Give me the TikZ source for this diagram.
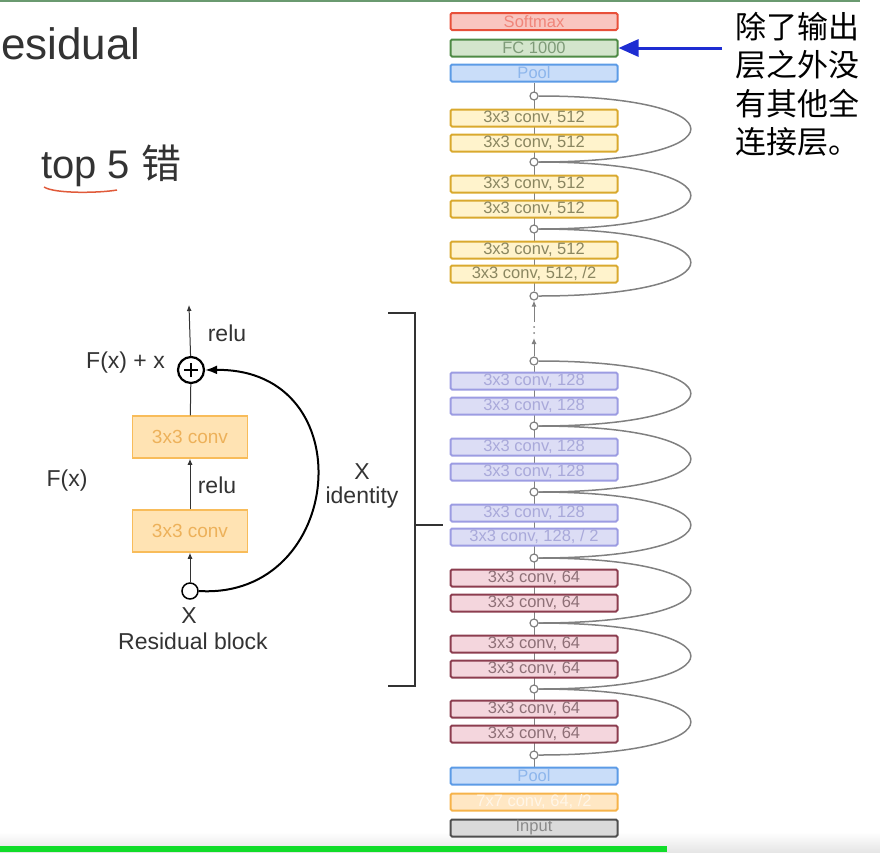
\documentclass[tikz,border=0pt]{standalone}
\usepackage{fontspec}
\setmainfont{Liberation Sans}
\newfontfamily\cjk{Noto Sans CJK SC}
\usepackage{xcolor}
\usetikzlibrary{arrows.meta,backgrounds}

\definecolor{smfill}{HTML}{F9C6C0}\definecolor{smdraw}{HTML}{E8503A}\definecolor{smtext}{HTML}{F0857A}
\definecolor{fcfill}{HTML}{D3E5CC}\definecolor{fcdraw}{HTML}{4E8A45}\definecolor{fctext}{HTML}{7E9B78}
\definecolor{plfill}{HTML}{C9DDF9}\definecolor{pldraw}{HTML}{5C9BE6}\definecolor{pltext}{HTML}{8DB6EC}
\definecolor{yfill}{HTML}{FFF3CC}\definecolor{ydraw}{HTML}{D9A92E}\definecolor{ytext}{HTML}{8A8660}
\definecolor{vfill}{HTML}{DCDDF5}\definecolor{vdraw}{HTML}{9C9CE2}\definecolor{vtext}{HTML}{A9A9DA}
\definecolor{rfill}{HTML}{F4D6DD}\definecolor{rdraw}{HTML}{8C3D4F}\definecolor{rtext}{HTML}{8E7077}
\definecolor{ofill}{HTML}{FFE7C4}\definecolor{odraw}{HTML}{F6B34A}\definecolor{otext}{HTML}{FFF6E8}
\definecolor{gfill}{HTML}{DADADA}\definecolor{gdraw}{HTML}{4F4F4F}\definecolor{gtext}{HTML}{8A8A8A}
\definecolor{blkfill}{HTML}{FFE3B3}\definecolor{blkdraw}{HTML}{F8BC5A}\definecolor{blktext}{HTML}{EDB15A}
\definecolor{notearrow}{HTML}{1E2DD2}
\definecolor{topgreen}{HTML}{6A9A70}
\definecolor{bargreen}{HTML}{11DD2A}
\definecolor{inkred}{HTML}{E05A3A}
\definecolor{ink}{HTML}{333333}

\begin{document}
\begin{tikzpicture}[x=1pt, y=-1pt,
                    layer/.style={draw, line width=2pt, rounded corners=1.5pt,
                                  minimum width=167pt, minimum height=17pt, inner sep=0pt,
                                  font=\fontsize{16.5}{16.5}\selectfont},
                    softmaxbox/.style={layer, fill=smfill, draw=smdraw, text=smtext},
                    fcbox/.style={layer, fill=fcfill, draw=fcdraw, text=fctext},
                    poolbox/.style={layer, fill=plfill, draw=pldraw, text=pltext},
                    conv512/.style={layer, fill=yfill, draw=ydraw, text=ytext},
                    conv128/.style={layer, fill=vfill, draw=vdraw, text=vtext},
                    conv64/.style={layer, fill=rfill, draw=rdraw, text=rtext},
                    conv7box/.style={layer, fill=ofill, draw=odraw, text=otext},
                    inputbox/.style={layer, fill=gfill, draw=gdraw, text=gtext},
                    junc/.style={circle, draw=gray, fill=white, line width=1.2pt,
                                 inner sep=0pt, minimum size=8pt},
                    skiparc/.style={draw=gray, line width=1.5pt},
                    spine/.style={draw=gray, line width=1pt},
                    uparrow/.style={draw=gray, line width=1pt, -{Latex[length=6pt,width=5pt]}},
                    blockconv/.style={draw=blkdraw, fill=blkfill, text=blktext, line width=1.5pt,
                                      minimum width=115pt, minimum height=42pt,
                                      font=\fontsize{19}{19}\selectfont},
                    lbl/.style={text=ink, inner sep=0pt, font=\fontsize{23}{26}\selectfont},
                    flow/.style={draw=ink, line width=1pt, -{Latex[length=6pt,width=5pt]}}]
  \useasboundingbox (0,0) rectangle (880,852);

  % page edges
  \shade[top color=white, bottom color=black!10] (0,832) rectangle (880,852);
  \fill[bargreen] (0,846) rectangle (667,852);
  \fill[topgreen] (0,0) rectangle (860,2);

  % title
  \node[anchor=base west, inner sep=0pt, font=\fontsize{44}{44}\selectfont, text=ink] (title) at (1,59) {esidual};
  \node[anchor=base west, inner sep=0pt, font=\fontsize{40}{40}\selectfont, text=ink] (top5) at (41,178) {top 5 {\cjk 错}};
  \draw[inkred, line width=1.5pt] (44,187) .. controls (55,194) and (100,193) .. (117,190);

  % the network
  \node[softmaxbox] (softmax) at (534,21.5) {Softmax};
  \node[fcbox] (fc) at (534,48) {FC 1000};
  \node[poolbox] (pooltop) at (534,73) {Pool};
  \node[junc] (j1) at (534,96) {};
  \node[conv512] (a1) at (534,118) {3x3 conv, 512};
  \node[conv512] (a2) at (534,143) {3x3 conv, 512};
  \node[junc] (j2) at (534,162) {};
  \node[conv512] (a3) at (534,184) {3x3 conv, 512};
  \node[conv512] (a4) at (534,209) {3x3 conv, 512};
  \node[junc] (j3) at (534,229) {};
  \node[conv512] (a5) at (534,250) {3x3 conv, 512};
  \node[conv512] (a6) at (534,274) {3x3 conv, 512, /2};
  \node[junc] (j4) at (534,296) {};
  \node[junc] (j5) at (534,361) {};
  \node[conv128] (b1) at (534,381) {3x3 conv, 128};
  \node[conv128] (b2) at (534,406) {3x3 conv, 128};
  \node[junc] (j6) at (534,426) {};
  \node[conv128] (b3) at (534,447) {3x3 conv, 128};
  \node[conv128] (b4) at (534,472) {3x3 conv, 128};
  \node[junc] (j7) at (534,492) {};
  \node[conv128] (b5) at (534,513) {3x3 conv, 128};
  \node[conv128] (b6) at (534,537) {3x3 conv, 128, / 2};
  \node[junc] (j8) at (534,558) {};
  \node[conv64] (c1) at (534,578) {3x3 conv, 64};
  \node[conv64] (c2) at (534,603) {3x3 conv, 64};
  \node[junc] (j9) at (534,623) {};
  \node[conv64] (c3) at (534,644) {3x3 conv, 64};
  \node[conv64] (c4) at (534,669) {3x3 conv, 64};
  \node[junc] (j10) at (534,689) {};
  \node[conv64] (c5) at (534,709) {3x3 conv, 64};
  \node[conv64] (c6) at (534,734) {3x3 conv, 64};
  \node[junc] (j11) at (534,755) {};
  \node[poolbox] (poolbot) at (534,776) {Pool};
  \node[conv7box] (conv7) at (534,802) {7x7 conv, 64, /2};
  \node[inputbox] (input) at (534,828) {Input};

  \begin{scope}[on background layer]
    \draw[spine] (pooltop) -- (j4);
    \draw[spine] (j5) -- (poolbot);
  \end{scope}

  \coordinate (gaptop) at (534,322);
  \coordinate (gapbot) at (534,338);
  \draw[uparrow] (gaptop) -- (j4);
  \draw[uparrow] (j5) -- (gapbot);
  \fill[gray] (534,327) circle (1pt) (534,333) circle (1pt);

  \draw[skiparc] (j1.east) .. controls +(203,0) and +(203,0) .. (j2.east);
  \draw[skiparc] (j2.east) .. controls +(203,0) and +(203,0) .. (j3.east);
  \draw[skiparc] (j3.east) .. controls +(203,0) and +(203,0) .. (j4.east);
  \draw[skiparc] (j5.east) .. controls +(203,0) and +(203,0) .. (j6.east);
  \draw[skiparc] (j6.east) .. controls +(203,0) and +(203,0) .. (j7.east);
  \draw[skiparc] (j7.east) .. controls +(203,0) and +(203,0) .. (j8.east);
  \draw[skiparc] (j8.east) .. controls +(203,0) and +(203,0) .. (j9.east);
  \draw[skiparc] (j9.east) .. controls +(203,0) and +(203,0) .. (j10.east);
  \draw[skiparc] (j10.east) .. controls +(203,0) and +(203,0) .. (j11.east);

  % note on the FC layer
  \coordinate (notetail) at (722,48);
  \draw[notearrow, line width=3pt, -{Triangle[length=20pt,width=17pt]}] (notetail) -- (fc.east);
  \node[anchor=north west, align=left, inner sep=0pt,
        font=\cjk\fontsize{31}{38.5}\selectfont] (note) at (735,12)
        {除了输出\\层之外没\\有其他全\\连接层。};

  % residual block
  \node[circle, draw=black, line width=2.2pt, minimum size=26pt, inner sep=0pt] (sum) at (191,370) {};
  \draw[line width=2.8pt] ([xshift=-7pt]sum.center) -- ([xshift=7pt]sum.center)
                          ([yshift=-7pt]sum.center) -- ([yshift=7pt]sum.center);
  \node[blockconv] (conv2) at (190,437) {3x3 conv};
  \node[blockconv] (conv1) at (190,531) {3x3 conv};
  \node[circle, draw=black, line width=1.5pt, fill=white, minimum size=16pt, inner sep=0pt] (xin) at (190,591) {};
  \coordinate (out) at (189,305);

  \draw[flow] (sum) -- (out);
  \draw[ink, line width=1pt] (conv2) -- (sum);
  \draw[flow] (conv1) -- (conv2);
  \draw[flow] (xin) -- (conv1);
  \draw[black, line width=2pt, -{Latex[length=12pt,width=9pt]}]
    (xin.east) .. controls (345,600) and (365,368) .. (sum.east);

  \node[lbl] (relutop) at (227,333) {relu};
  \node[lbl, anchor=east] (sumlbl) at (165,363) {F(x) + x};
  \node[lbl] (relumid) at (217,485) {relu};
  \node[lbl] (fx) at (67,481) {F(x)};
  \node[lbl] (xlbl) at (189,616) {X};
  \node[lbl] (blocklbl) at (193,641) {Residual block};
  \node[lbl] (idx) at (362,472) {X};
  \node[lbl] (idlbl) at (362,498) {identity};

  % bracket
  \draw[ink, line width=2.5pt] (388,313) -- (415,313) -- (415,686) -- (388,686);
  \draw[ink, line width=2.5pt] (415,525) -- (443,525);
\end{tikzpicture}
\end{document}
